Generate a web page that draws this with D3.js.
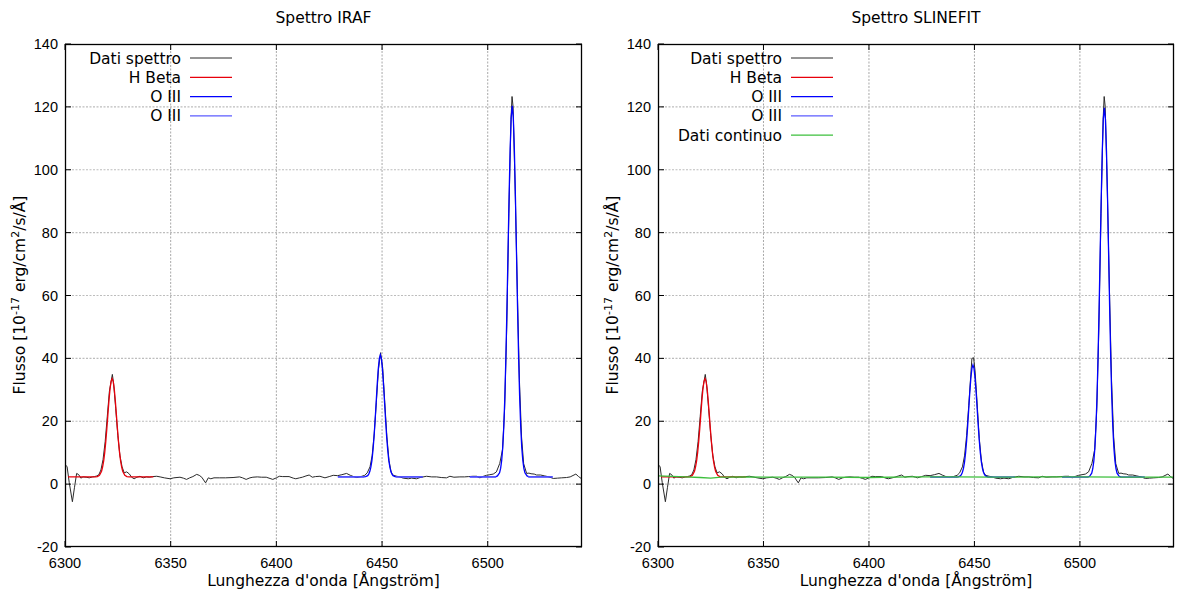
<!DOCTYPE html>
<html>
<head>
<meta charset="utf-8">
<script src="https://cdn.jsdelivr.net/npm/d3@7"></script>
<style>
  body { margin: 0; background: #fff; }
  svg { display: block; }
</style>
</head>
<body>
<svg id="chart" width="1177" height="590"></svg>
<script>
// ---- data ----
const xTicks = [6300, 6350, 6400, 6450, 6500]
const yTicks = [-20, 0, 20, 40, 60, 80, 100, 120, 140]
const xDomain = [6300, 6544.6]
const yDomain = [-20, 140]

// observed spectrum [wavelength, flux]
const spectrum = [
  [6300, 6.3], [6301, 5.5], [6302, 0.5], [6303.5, -5.6], [6304.5, -1.0], [6305.5, 3.4], [6306.5, 3.0],
  [6307.5, 1.9], [6308.5, 2.3], [6310, 2.2], [6311.5, 2.0], [6313, 2.3], [6314, 2.4], [6315, 2.6],
  [6316, 3.0], [6317, 4.5], [6318, 7.8], [6319, 13.5], [6320, 21.5], [6321, 29.5], [6322.4, 34.9],
  [6323, 32.0], [6324, 24.0], [6325, 15.5], [6326, 9.0], [6327, 5.5], [6328, 3.6], [6329.2, 3.9],
  [6330.5, 3.2], [6331.5, 2.2], [6332.7, 1.7], [6334, 2.2], [6335.5, 2.5], [6337, 2.0], [6338.5, 2.3],
  [6340, 2.2], [6341.5, 2.4], [6343.4, 2.5], [6345, 2.3], [6347, 2.0], [6349.7, 1.7], [6351.5, 2.0],
  [6354.4, 2.2], [6356, 1.9], [6357.5, 1.5], [6359, 2.0], [6360.5, 2.4], [6362.3, 3.1], [6363.5, 2.8],
  [6364.7, 2.2], [6366.5, 0.4], [6367.8, 2.0], [6369, 1.7], [6370.5, 2.0], [6373, 2.0], [6376, 2.0],
  [6379.5, 2.1], [6382.6, 2.3], [6384, 2.0], [6385.7, 1.5], [6387.5, 2.0], [6388.9, 2.2], [6391, 2.3],
  [6393, 2.2], [6395.2, 2.2], [6397, 1.8], [6398.3, 1.5], [6400, 2.0], [6401.4, 2.5], [6403, 2.4],
  [6406, 2.4], [6408, 1.9], [6409.2, 1.7], [6411, 2.0], [6412.3, 2.2], [6414, 2.6], [6415.5, 2.9],
  [6417, 2.2], [6418.5, 2.4], [6420.6, 2.5], [6422, 2.2], [6423, 2.0], [6425, 2.4], [6426.9, 2.8],
  [6429, 2.7], [6431, 3.0], [6433.2, 3.4], [6435, 2.8], [6436.5, 2.4], [6438, 2.1], [6440, 2.4],
  [6441.8, 2.8], [6443, 3.6], [6444.3, 5.5], [6445.3, 9.0], [6446.3, 16.0], [6447.3, 26.0], [6448.3, 36.5],
  [6449.3, 41.8], [6450.3, 37.0], [6451.3, 26.0], [6452.3, 15.0], [6453.3, 7.5], [6454.3, 3.8],
  [6455.3, 2.8], [6457, 2.5], [6458.4, 2.3], [6460, 1.9], [6462.4, 1.7], [6464, 1.9], [6466.3, 1.7],
  [6468, 2.1], [6471, 2.5], [6473.5, 2.3], [6475.8, 2.3], [6478, 2.1], [6480.5, 2.0], [6482.1, 2.5],
  [6484, 2.2], [6486.8, 2.3], [6489, 2.3], [6491, 2.4], [6493, 2.5], [6494.7, 2.5], [6496.3, 2.0],
  [6498, 2.5], [6499.4, 2.8], [6501, 3.0], [6502.6, 3.2], [6504.1, 3.9], [6505.7, 6.6], [6507, 11.0],
  [6508, 24.0], [6509, 50.0], [6510, 86.0], [6511, 116.0], [6511.5, 123.3], [6512, 120.0], [6513, 93.0],
  [6514, 62.0], [6515, 33.0], [6516, 15.0], [6517, 6.5], [6518.4, 3.4], [6519.5, 3.5], [6520.5, 3.3],
  [6522, 3.2], [6523.1, 2.9], [6525, 2.9], [6527, 2.6], [6529, 2.3], [6531, 1.8], [6533, 1.9],
  [6535, 2.0], [6537.3, 2.1], [6539, 2.3], [6541.7, 3.2], [6543, 2.4], [6544.6, 1.6]
]

// the SLINEFIT spectrum differs only around the 4959 line
const spectrumSlinefitPeak = [
  [6443, 3.6], [6444.3, 5.5], [6445.3, 9.0], [6446.3, 15.5], [6447.3, 25.0], [6448.3, 35.0],
  [6448.8, 40.0], [6449.6, 40.2], [6450.3, 36.0], [6451.3, 25.5], [6452.3, 14.5], [6453.3, 7.5], [6454.3, 3.8]
]

const hBetaFit = [
  [6301.4, 2.3], [6314.3, 2.3], [6315.3, 2.4], [6316.3, 2.8], [6317.3, 4.1], [6317.8, 5.5], [6318.3, 7.4],
  [6318.8, 10.1], [6319.3, 13.6], [6319.8, 17.7], [6320.3, 22.2], [6320.8, 26.6], [6321.3, 30.3],
  [6321.8, 32.7], [6322.3, 33.6], [6322.8, 32.7], [6323.3, 30.3], [6323.8, 26.6], [6324.3, 22.2],
  [6324.8, 17.7], [6325.3, 13.6], [6325.8, 10.1], [6326.3, 7.4], [6326.8, 5.5], [6327.3, 4.1],
  [6328.3, 2.8], [6329.3, 2.4], [6330.3, 2.3], [6341.8, 2.3]
]

const oIIIFitIraf = [
  [[6429.1, 2.3], [6441.2, 2.3], [6442.2, 2.4], [6443.2, 2.7], [6443.7, 3.2], [6444.2, 4.0], [6444.7, 5.4],
   [6445.2, 7.5], [6445.7, 10.7], [6446.2, 14.9], [6446.7, 20.1], [6447.2, 25.8], [6447.7, 31.6],
   [6448.2, 36.5], [6448.7, 39.9], [6449.2, 41.1], [6449.7, 39.9], [6450.2, 36.5], [6450.7, 31.6],
   [6451.2, 25.8], [6451.7, 20.1], [6452.2, 14.9], [6452.7, 10.7], [6453.2, 7.5], [6453.7, 5.4],
   [6454.2, 4.0], [6454.7, 3.2], [6455.2, 2.7], [6456.2, 2.4], [6457.2, 2.3], [6469.2, 2.3]],
  [[6491.5, 2.3], [6503.6, 2.3], [6504.6, 2.6], [6505.6, 3.6], [6506.1, 5.0], [6506.6, 7.5], [6507.1, 11.7],
   [6507.6, 18.3], [6508.1, 27.8], [6508.6, 40.6], [6509.1, 56.3], [6509.6, 73.9], [6510.1, 91.4],
   [6510.6, 106.4], [6511.1, 116.6], [6511.6, 120.3], [6512.1, 116.6], [6512.6, 106.4], [6513.1, 91.4],
   [6513.6, 73.9], [6514.1, 56.3], [6514.6, 40.6], [6515.1, 27.8], [6515.6, 18.3], [6516.1, 11.7],
   [6516.6, 7.5], [6517.1, 5.0], [6517.6, 3.6], [6518.6, 2.6], [6519.6, 2.3], [6530.7, 2.3]]
]

const oIIIFitSlinefit = [
  [[6429.1, 2.2], [6441.3, 2.2], [6442.3, 2.3], [6443.3, 2.6], [6443.8, 3.0], [6444.3, 3.8], [6444.8, 5.0],
   [6445.3, 7.0], [6445.8, 9.9], [6446.3, 13.8], [6446.8, 18.6], [6447.3, 23.9], [6447.8, 29.2],
   [6448.3, 33.7], [6448.8, 36.8], [6449.3, 37.9], [6449.8, 36.8], [6450.3, 33.7], [6450.8, 29.2],
   [6451.3, 23.9], [6451.8, 18.6], [6452.3, 13.8], [6452.8, 9.9], [6453.3, 7.0], [6453.8, 5.0],
   [6454.3, 3.8], [6454.8, 3.0], [6455.3, 2.6], [6456.3, 2.3], [6457.3, 2.2], [6469.2, 2.2]],
  [[6491.5, 2.2], [6503.6, 2.2], [6504.6, 2.5], [6505.6, 3.5], [6506.1, 4.9], [6506.6, 7.4], [6507.1, 11.6],
   [6507.6, 18.1], [6508.1, 27.6], [6508.6, 40.4], [6509.1, 56.0], [6509.6, 73.5], [6510.1, 90.9],
   [6510.6, 105.9], [6511.1, 116.1], [6511.6, 119.7], [6512.1, 116.1], [6512.6, 105.9], [6513.1, 90.9],
   [6513.6, 73.5], [6514.1, 56.0], [6514.6, 40.4], [6515.1, 27.6], [6515.6, 18.1], [6516.1, 11.6],
   [6516.6, 7.4], [6517.1, 4.9], [6517.6, 3.5], [6518.6, 2.5], [6519.6, 2.2], [6530.7, 2.2]]
]

// continuum windows drawn as the second "O III" entry
const oIIIContIraf = [
  [[6429.1, 2.3], [6441.5, 2.3]], [[6456.5, 2.3], [6469.2, 2.3]],
  [[6491.5, 2.3], [6504, 2.3]], [[6519, 2.3], [6530.7, 2.3]]
]
const oIIIContSlinefit = [
  [[6429.1, 2.2], [6441.5, 2.2]], [[6456.5, 2.2], [6469.2, 2.2]],
  [[6491.5, 2.2], [6504, 2.2]], [[6519, 2.2], [6530.7, 2.2]]
]

const continuum = [
  [6300, 2.6], [6310, 2.4], [6320, 2.1], [6325, 1.9], [6330, 2.2], [6340, 2.3], [6360, 2.2], [6380, 2.2],
  [6400, 2.1], [6420, 2.3], [6440, 2.3], [6460, 2.2], [6480, 2.3], [6500, 2.3], [6520, 2.2], [6544.6, 2.2]
]

const colors = { spectrum: "#2a2a2a", hbeta: "#e8000b", oiii: "#0000ff", oiii2: "#5c5cff", cont: "#3cbf3c" }

const svg = d3.select("#chart")
const textFont = "'DejaVu Sans', sans-serif"
const tickFont = "'Liberation Sans', Arial, sans-serif"

function drawPanel(opts) {
  let x = d3.scaleLinear().domain(xDomain).range([opts.left, opts.right])
  let y = d3.scaleLinear().domain(yDomain).range([547, 44])
  let g = svg.append("g")
  let clipId = "clip" + opts.id
  g.append("clipPath").attr("id", clipId)
    .append("rect")
    .attr("x", opts.left).attr("y", 44)
    .attr("width", opts.right - opts.left).attr("height", 503)

  // grid
  g.append("g").selectAll("line")
    .data(xTicks.filter(d => d > xDomain[0])).enter()
    .append("line")
    .attr("x1", d => x(d)).attr("x2", d => x(d))
    .attr("y1", 44).attr("y2", 547)
    .attr("stroke", "#a8a8a8").attr("stroke-dasharray", "2,1.5").attr("stroke-width", 1)
  g.append("g").selectAll("line")
    .data(yTicks.filter(d => d > yDomain[0] && d < yDomain[1])).enter()
    .append("line")
    .attr("x1", opts.left).attr("x2", opts.right)
    .attr("y1", d => y(d)).attr("y2", d => y(d))
    .attr("stroke", "#bdbdbd").attr("stroke-dasharray", "2,1.5").attr("stroke-width", 1.2)

  let line = d3.line().x(d => x(d[0])).y(d => y(d[1]))
  let plot = g.append("g").attr("clip-path", `url(#${clipId})`)

  plot.append("path").datum(opts.spectrum)
    .attr("d", line).attr("fill", "none").attr("stroke", colors.spectrum).attr("stroke-width", 1)
  plot.append("path").datum(hBetaFit)
    .attr("d", line).attr("fill", "none").attr("stroke", colors.hbeta).attr("stroke-width", 1.3)
  plot.selectAll("path.oiii").data(opts.oiii).enter()
    .append("path").attr("class", "oiii")
    .attr("d", line).attr("fill", "none").attr("stroke", colors.oiii).attr("stroke-width", 1.3)
  plot.selectAll("path.oiii2").data(opts.oiii2).enter()
    .append("path").attr("class", "oiii2")
    .attr("d", line).attr("fill", "none").attr("stroke", colors.oiii2).attr("stroke-width", 1.3)
  if (opts.continuum) {
    plot.append("path").datum(opts.continuum)
      .attr("d", line).attr("fill", "none").attr("stroke", colors.cont).attr("stroke-width", 1.3)
  }

  // ticks (inward, mirrored on all four sides)
  let tk = g.append("g").attr("stroke", "#000").attr("stroke-width", 1)
  xTicks.forEach(t => {
    tk.append("line").attr("x1", x(t)).attr("x2", x(t)).attr("y1", 547).attr("y2", 541)
    tk.append("line").attr("x1", x(t)).attr("x2", x(t)).attr("y1", 44).attr("y2", 50)
  })
  yTicks.forEach(t => {
    tk.append("line").attr("x1", opts.left).attr("x2", opts.left + 6).attr("y1", y(t)).attr("y2", y(t))
    tk.append("line").attr("x1", opts.right).attr("x2", opts.right - 6).attr("y1", y(t)).attr("y2", y(t))
  })

  g.append("rect")
    .attr("x", opts.left + 0.5).attr("y", 44.5)
    .attr("width", opts.right - opts.left - 1).attr("height", 502)
    .attr("fill", "none").attr("stroke", "#000").attr("stroke-width", 1.3)

  // tick labels
  g.append("g").selectAll("text")
    .data(xTicks).enter()
    .append("text")
    .attr("x", d => x(d)).attr("y", 568)
    .attr("text-anchor", "middle")
    .attr("font-family", tickFont).attr("font-size", 14.5)
    .text(d => d)
  g.append("g").selectAll("text")
    .data(yTicks).enter()
    .append("text")
    .attr("x", opts.left - 7).attr("y", d => y(d) + 5)
    .attr("text-anchor", "end")
    .attr("font-family", tickFont).attr("font-size", 14.5)
    .text(d => d)

  let cx = (opts.left + opts.right) / 2
  g.append("text")
    .attr("x", cx).attr("y", 23).attr("text-anchor", "middle")
    .attr("font-family", textFont).attr("font-size", 15.5)
    .text(opts.title)
  g.append("text")
    .attr("x", cx).attr("y", 586).attr("text-anchor", "middle")
    .attr("font-family", textFont).attr("font-size", 15.5)
    .text("Lunghezza d'onda [Ångström]")

  let yl = g.append("text")
    .attr("transform", `translate(${opts.left - 40},295) rotate(-90)`)
    .attr("text-anchor", "middle")
    .attr("font-family", textFont).attr("font-size", 15.5)
  yl.append("tspan").text("Flusso [10")
  yl.append("tspan").attr("dy", -6).attr("font-size", 11).text("-17")
  yl.append("tspan").attr("dy", 6).text(" erg/cm")
  yl.append("tspan").attr("dy", -6).attr("font-size", 11).text("2")
  yl.append("tspan").attr("dy", 6).text("/s/Å]")

  // legend
  let lg = g.append("g")
  opts.legend.forEach((d, i) => {
    let ly = 58 + i * 19.3
    lg.append("text")
      .attr("x", opts.left + opts.legendX).attr("y", ly + 5.5)
      .attr("text-anchor", "end")
      .attr("font-family", textFont).attr("font-size", 15.5)
      .text(d.label)
    lg.append("line")
      .attr("x1", opts.left + opts.legendX + 9).attr("x2", opts.left + opts.legendX + 51)
      .attr("y1", ly).attr("y2", ly)
      .attr("stroke", d.color).attr("stroke-width", d.width)
  })
}

const legendBase = [
  { label: "Dati spettro", color: colors.spectrum, width: 1 },
  { label: "H Beta", color: colors.hbeta, width: 1.3 },
  { label: "O III", color: colors.oiii, width: 1.3 },
  { label: "O III", color: colors.oiii2, width: 1.3 }
]

drawPanel({
  id: "a", left: 65, right: 582, title: "Spettro IRAF",
  spectrum: spectrum, oiii: oIIIFitIraf, oiii2: oIIIContIraf,
  legend: legendBase, legendX: 116
})

const spectrumSlinefit = spectrum
  .filter(d => d[0] < 6443 || d[0] > 6454.3)
  .concat(spectrumSlinefitPeak)
  .sort((a, b) => a[0] - b[0])

drawPanel({
  id: "b", left: 658, right: 1174, title: "Spettro SLINEFIT",
  spectrum: spectrumSlinefit, oiii: oIIIFitSlinefit, oiii2: oIIIContSlinefit, continuum: continuum,
  legend: legendBase.concat([{ label: "Dati continuo", color: colors.cont, width: 1.3 }]), legendX: 124
})
</script>
</body>
</html>
